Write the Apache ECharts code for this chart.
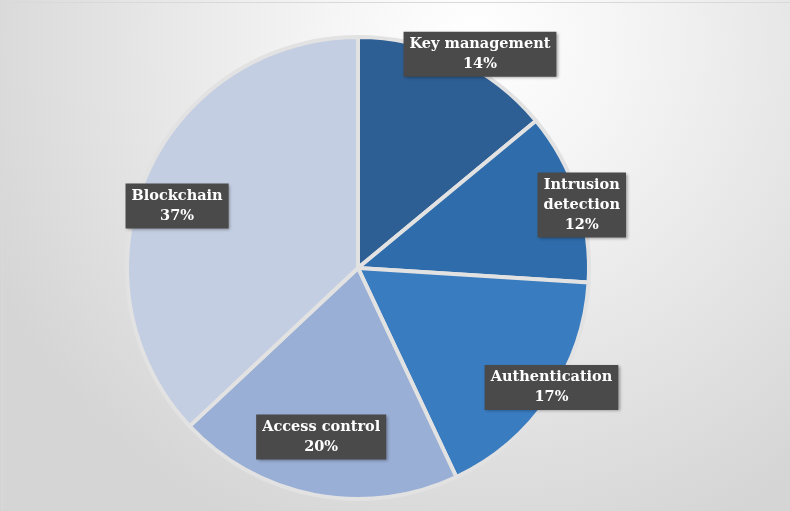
<!DOCTYPE html>
<html>
<head>
<meta charset="utf-8">
<script src="https://cdn.jsdelivr.net/npm/echarts@6/dist/echarts.min.js"></script>
<style>
html,body{margin:0;padding:0;background:#fff;}
#c{width:790px;height:511px;}
</style>
</head>
<body>
<div id="c"></div>
<script>
// ---- data ----
const categories = ['Key management', 'Intrusion\ndetection', 'Authentication', 'Access control', 'Blockchain'];
const values = [14, 12, 17, 20, 37];
const colors = ['#2d5e94', '#2f6cab', '#3a7cc0', '#9aafd6', '#c4cee2'];

// ---- layout (label placement: radius factor, angle nudge in degrees) ----
const labelRadius = [1.075, 1.015, 0.993, 0.755, 0.835];
const labelAngleNudge = [4.5, 2.3, -2.5, 1.5, -4.5];
const CX = 358, CY = 268, R = 229;

const total = values.reduce((a, b) => a + b, 0);
const midAngles = [];
let acc = 0;
values.forEach(v => { midAngles.push((acc + v / 2) / total * 360); acc += v; });

const chart = echarts.init(document.getElementById('c'), null, {renderer: 'canvas'});
chart.setOption({
  backgroundColor: {
    type: 'radial', x: 0.6, y: 0.08, r: 1.05,
    colorStops: [
      {offset: 0, color: '#ffffff'},
      {offset: 0.25, color: '#f6f6f6'},
      {offset: 1, color: '#d5d5d5'}
    ]
  },
  graphic: [{
    type: 'rect', left: 0, top: 0,
    shape: {width: 789, height: 510},
    style: {fill: 'none', stroke: '#d9d9d9', lineWidth: 1}
  }],
  series: [{
    type: 'pie',
    center: [CX, CY],
    radius: R + 2,
    startAngle: 90,
    clockwise: true,
    animation: false,
    data: categories.map((c, i) => ({
      name: c, value: values[i],
      itemStyle: {color: colors[i]}
    })),
    itemStyle: {borderColor: '#e2e2e2', borderWidth: 4},
    emphasis: {disabled: true},
    label: {
      show: true,
      position: 'inside',
      formatter: p => p.name + '\n' + p.percent.toFixed(0) + '%',
      color: '#ffffff',
      fontFamily: 'DejaVu Serif',
      fontWeight: 'bold',
      fontSize: 14.5,
      lineHeight: 20,
      align: 'center',
      backgroundColor: '#4a4a4a',
      padding: [3, 6, 2, 6],
      shadowColor: 'rgba(0,0,0,0.35)',
      shadowBlur: 3,
      shadowOffsetX: 1.5,
      shadowOffsetY: 1.5
    },
    labelLine: {show: false},
    labelLayout: function (p) {
      const i = p.dataIndex;
      const a = (midAngles[i] + labelAngleNudge[i]) * Math.PI / 180;
      const r = R * labelRadius[i];
      return {
        x: CX + r * Math.sin(a),
        y: CY - r * Math.cos(a),
        align: 'center',
        verticalAlign: 'middle'
      };
    }
  }]
});
</script>
</body>
</html>
